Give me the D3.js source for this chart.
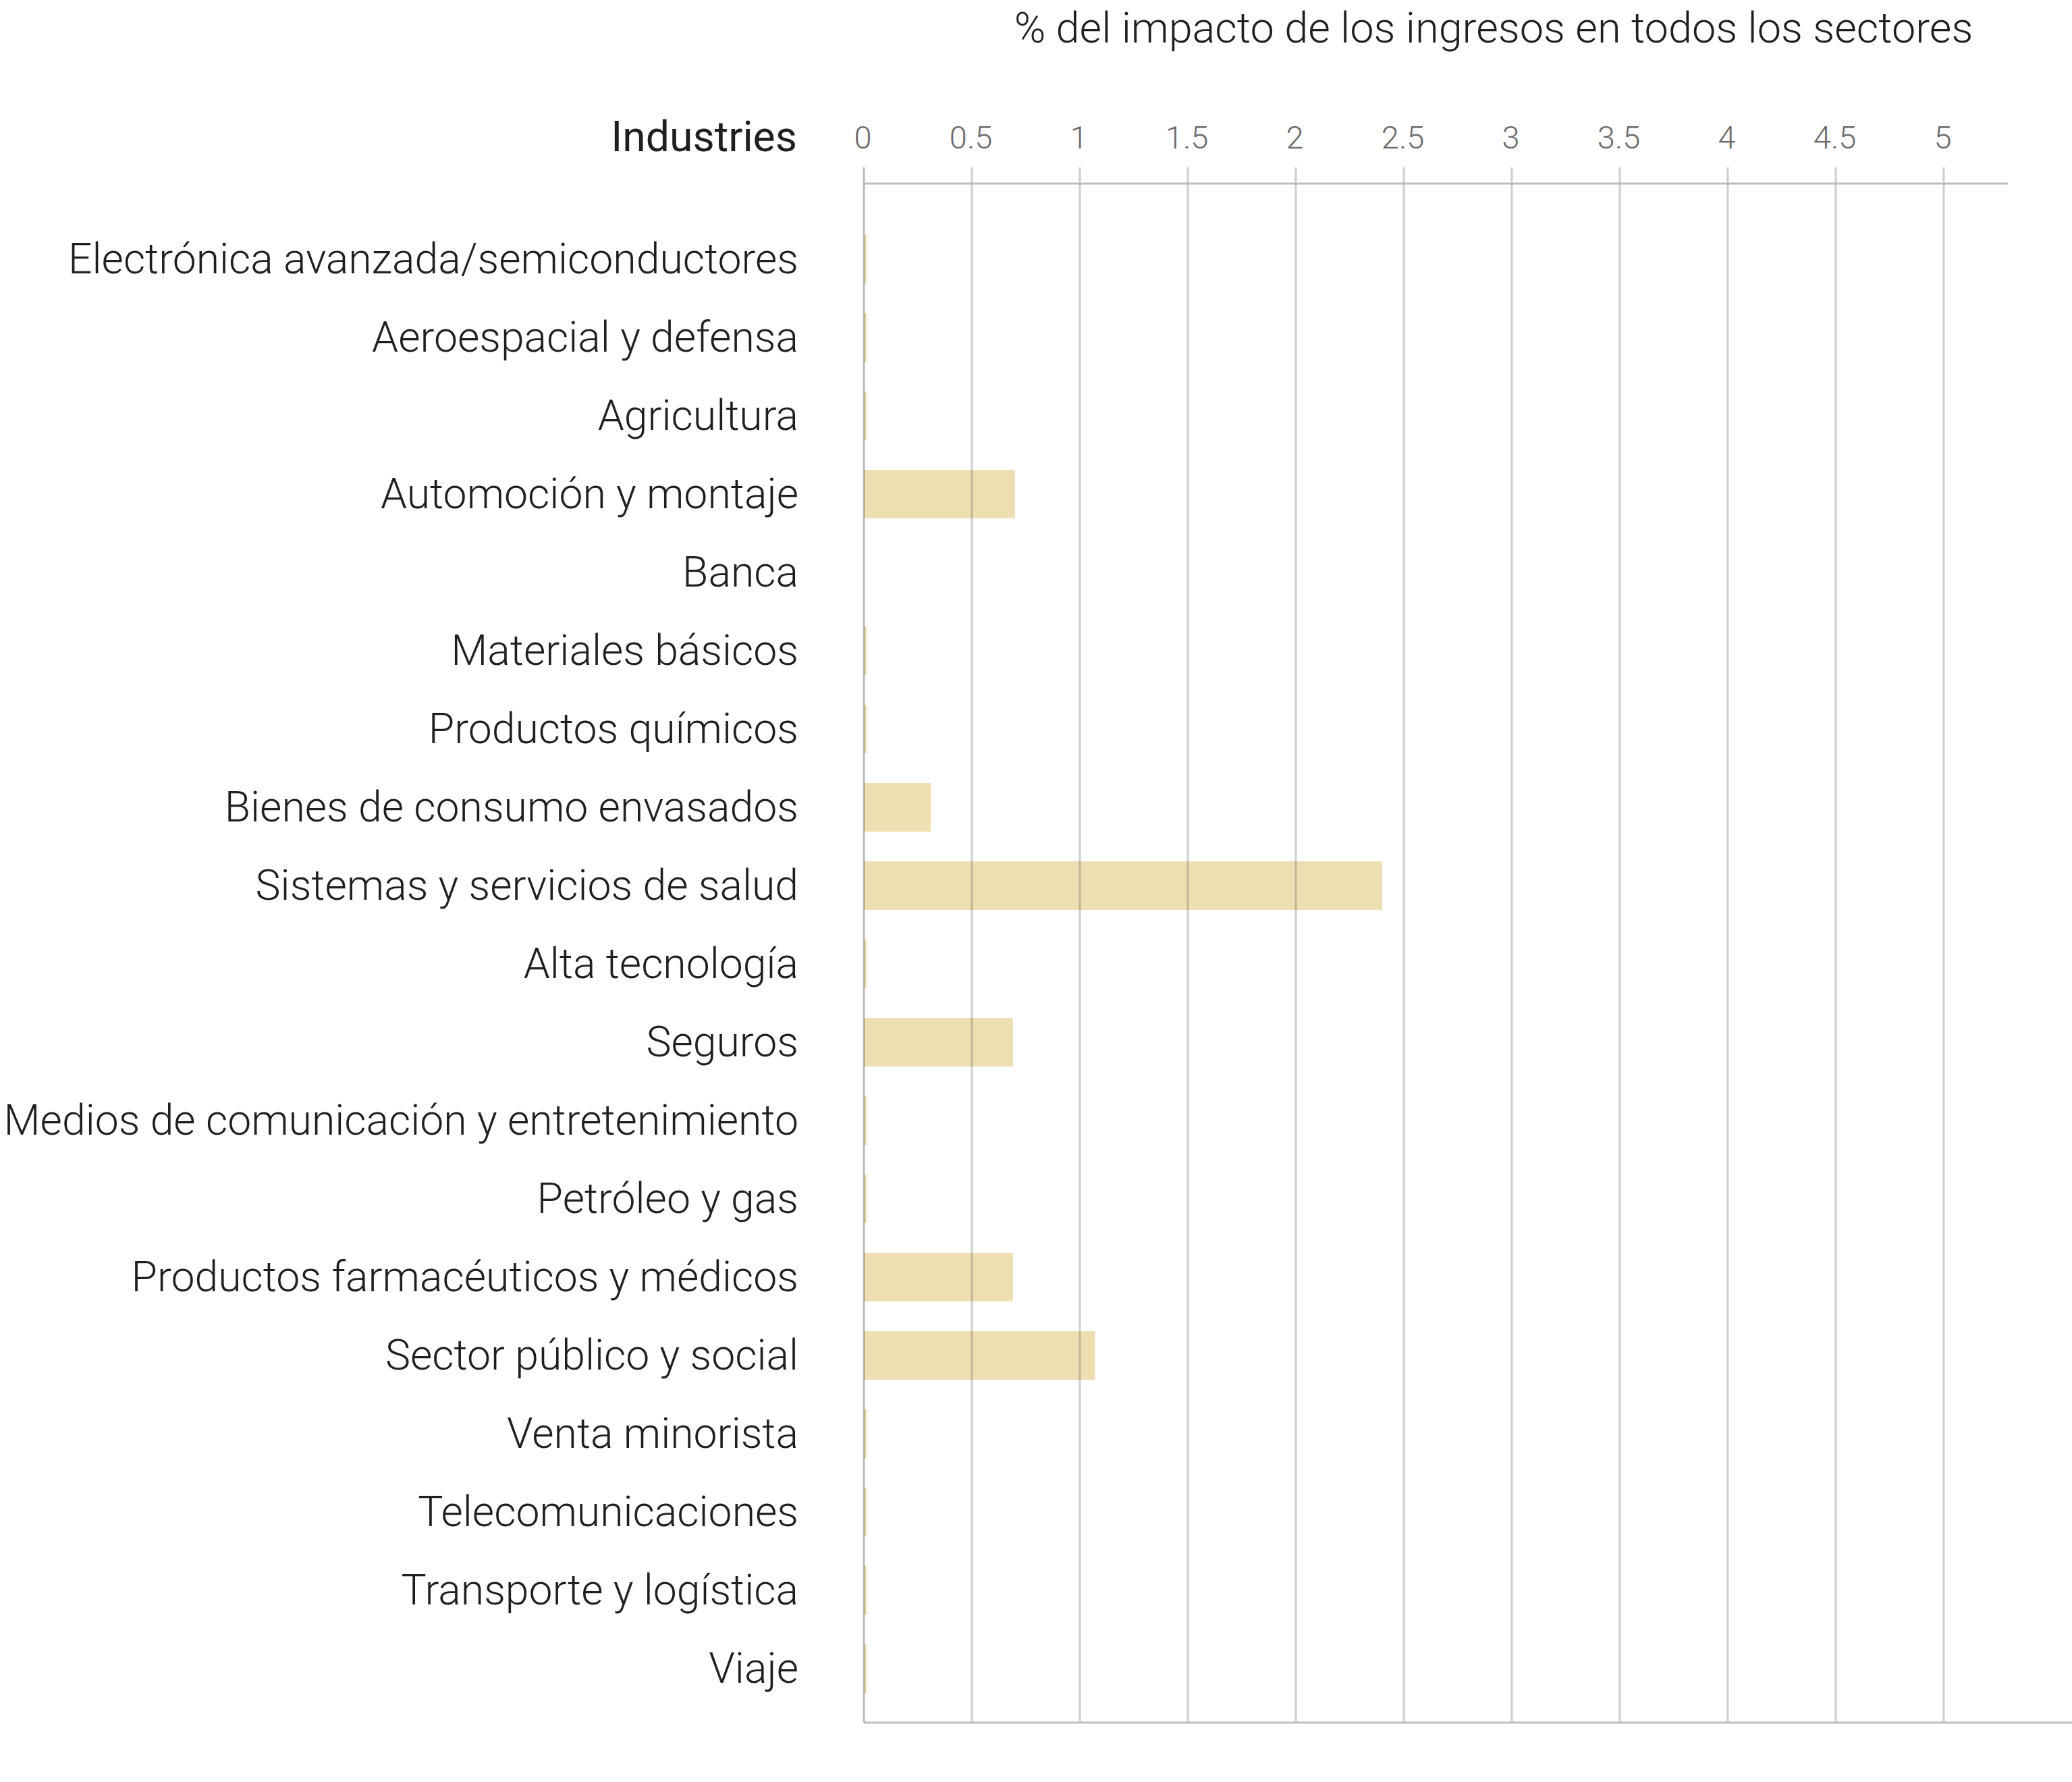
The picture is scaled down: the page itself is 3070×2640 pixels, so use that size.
<!DOCTYPE html>
<html>
<head>
<meta charset="utf-8">
<script src="https://cdn.jsdelivr.net/npm/d3@7"></script>
<style>
  html, body { margin: 0; padding: 0; background: #ffffff; }
  svg { display: block; }
  text { font-family: Roboto, "Open Sans", sans-serif; }
</style>
</head>
<body>
<script>
// ---- data ----
const categories = [
  "Electrónica avanzada/semiconductores",
  "Aeroespacial y defensa",
  "Agricultura",
  "Automoción y montaje",
  "Banca",
  "Materiales básicos",
  "Productos químicos",
  "Bienes de consumo envasados",
  "Sistemas y servicios de salud",
  "Alta tecnología",
  "Seguros",
  "Medios de comunicación y entretenimiento",
  "Petróleo y gas",
  "Productos farmacéuticos y médicos",
  "Sector público y social",
  "Venta minorista",
  "Telecomunicaciones",
  "Transporte y logística",
  "Viaje"
];
const values = [0.013, 0.013, 0.013, 0.70, 0, 0.013, 0.013, 0.31, 2.40, 0.013, 0.69, 0.013, 0.013, 0.69, 1.07, 0.013, 0.013, 0.013, 0.013];
const tickValues = [0, 0.5, 1, 1.5, 2, 2.5, 3, 3.5, 4, 4.5, 5];
const tickLabels = ["0", "0.5", "1", "1.5", "2", "2.5", "3", "3.5", "4", "4.5", "5"];
const titleText = "% del impacto de los ingresos en todos los sectores";
const yTitle = "Industries";

// ---- layout ----
const W = 3070, H = 2640;
const svg = d3.select("body").append("svg").attr("width", W).attr("height", H);

const x = d3.scaleLinear().domain([0, 5]).range([1280, 2880]);
const y = d3.scaleBand().domain(categories).range([326, 2530]).paddingInner(0.38).paddingOuter(0.19);

const gridTop = 248, axisY = 272, bottomY = 2552;

// bars
svg.append("g").selectAll("rect").data(categories).join("rect")
  .attr("x", x(0))
  .attr("y", d => y(d))
  .attr("width", (d, i) => x(values[i]) - x(0))
  .attr("height", y.bandwidth())
  .attr("fill", "#EEDFB2");

// gridlines (on top, semi-transparent)
svg.append("g").selectAll("line").data(tickValues.slice(1)).join("line")
  .attr("x1", d => x(d)).attr("x2", d => x(d))
  .attr("y1", gridTop).attr("y2", bottomY)
  .attr("stroke", "rgba(90,90,90,0.3)")
  .attr("stroke-width", 3);

// zero line
svg.append("line")
  .attr("x1", x(0)).attr("x2", x(0))
  .attr("y1", gridTop).attr("y2", bottomY)
  .attr("stroke", "rgba(80,80,80,0.4)")
  .attr("stroke-width", 3);

// top axis line
svg.append("line")
  .attr("x1", x(0)).attr("x2", 2975)
  .attr("y1", axisY).attr("y2", axisY)
  .attr("stroke", "#bdbdbd").attr("stroke-width", 3);

// bottom line
svg.append("line")
  .attr("x1", x(0)).attr("x2", W)
  .attr("y1", bottomY).attr("y2", bottomY)
  .attr("stroke", "#bdbdbd").attr("stroke-width", 3);

// tick labels via axis
const axis = d3.axisTop(x).tickValues(tickValues)
  .tickFormat((d, i) => tickLabels[i]).tickSize(0).tickPadding(0);
const ax = svg.append("g").attr("transform", `translate(-2, 220)`).call(axis);
ax.select(".domain").remove();
ax.selectAll("text")
  .attr("fill", "#6b6b6b")
  .attr("font-size", 47)
  .attr("font-weight", 300)
  .attr("dy", 0)
  .style("font-family", "Roboto, sans-serif");

// category labels
svg.append("g").selectAll("text").data(categories).join("text")
  .attr("x", 1183)
  .attr("y", d => y(d) + y.bandwidth() / 2)
  .attr("dy", "0.33em")
  .attr("text-anchor", "end")
  .attr("font-size", 62.5)
  .attr("font-weight", 300)
  .attr("fill", "#1f1f1f")
  .text(d => d);

// y title
svg.append("text")
  .attr("x", 1181).attr("y", 224)
  .attr("text-anchor", "end")
  .attr("font-size", 62.5)
  .attr("font-weight", 400)
  .attr("fill", "#1f1f1f")
  .text(yTitle);

// chart title
svg.append("text")
  .attr("x", 2213).attr("y", 63)
  .attr("text-anchor", "middle")
  .attr("font-size", 63)
  .attr("font-weight", 300)
  .attr("fill", "#1f1f1f")
  .text(titleText);
</script>
</body>
</html>
